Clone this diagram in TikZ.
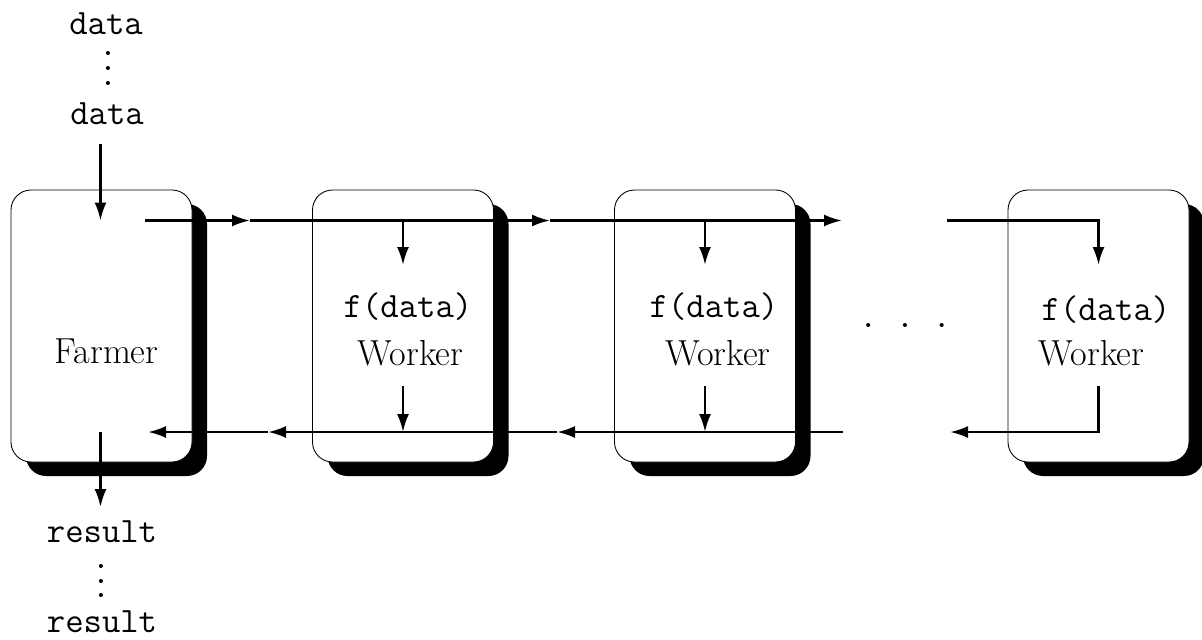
\documentclass[tikz,border=0pt]{standalone}
\usepackage{fontspec}
\usepackage{tikz}
\usetikzlibrary{arrows.meta,shadows}

\newcommand{\tallvdots}{\vbox{\baselineskip=8.5pt\lineskiplimit=0pt\hbox{.}\hbox{.}\hbox{.}}}

\begin{document}
\begin{tikzpicture}[
        box/.style={draw,line width=0.5pt,fill=white,rounded corners=0.4cm,
            minimum width=3.62cm,minimum height=5.44cm,
            drop shadow={shadow xshift=0.3cm,shadow yshift=-0.28cm,fill=black,opacity=1}},
        arr/.style={line width=1.4pt,-{Latex[length=0.36cm,width=0.24cm]}},
        mono/.style={font=\fontsize{20.3}{22}\ttfamily,anchor=base,inner sep=0pt},
        roman/.style={font=\fontsize{20.6}{24}\selectfont,anchor=base,inner sep=0pt}]
        \useasboundingbox (0,0) rectangle (24.04,-12.78);

        % the four boxes
        \node[box] (farmer) at (2.03,-6.52) {};
        \node[box] (worker1) at (8.06,-6.52) {};
        \node[box] (worker2) at (14.1,-6.52) {};
        \node[box] (worker3) at (21.97,-6.52) {};

        % texts
        \node[mono] (data1) at (2.12,-0.68) {data};
        \node[mono,anchor=center] (vdots1) at (2.16,-1.37) {\tallvdots};
        \node[mono] (data2) at (2.14,-2.48) {data};
        \node[mono] (result1) at (2.04,-10.84) {result};
        \node[mono,anchor=center] (vdots2) at (2.02,-11.62) {\tallvdots};
        \node[mono] (result2) at (2.04,-12.64) {result};

        \node[roman] (farmertext) at (2.13,-7.26) {Farmer};
        \node[mono] (f1) at (8.16,-6.34) {f(data)};
        \node[roman] (w1) at (8.21,-7.3) {Worker};
        \node[mono] (f2) at (14.28,-6.34) {f(data)};
        \node[roman] (w2) at (14.36,-7.3) {Worker};
        \node[mono] (f3) at (22.12,-6.4) {f(data)};
        \node[roman] (w3) at (21.83,-7.3) {Worker};
        \node[mono] (gap) at (18.1,-6.54) {.\ .\ .};

        % levels and rail points
        \coordinate (top) at (0,-4.41);
        \coordinate (tipin) at (0,-5.3);
        \coordinate (outstart) at (0,-7.72);
        \coordinate (bot) at (0,-8.64);
        \coordinate (datain) at (2.01,-2.88);
        \coordinate (resout) at (2.01,-10.14);
        \coordinate (t0) at (2.9,-4.41);
        \coordinate (t1) at (5.0,-4.41);
        \coordinate (t2) at (11.0,-4.41);
        \coordinate (t3) at (16.84,-4.41);
        \coordinate (t4) at (18.94,-4.41);
        \coordinate (b0) at (2.96,-8.64);
        \coordinate (b1) at (5.36,-8.64);
        \coordinate (b2) at (11.14,-8.64);
        \coordinate (b3) at (16.86,-8.64);
        \coordinate (b4) at (19.0,-8.64);

        % farmer in and out
        \draw[arr] (datain) -- (datain |- top);
        \draw[arr] (resout |- bot) -- (resout);

        % outgoing rail
        \draw[arr] (t0) -- (t1);
        \draw[arr] (t1) -- (t2);
        \draw[arr] (t2) -- (t3);
        \draw[arr] (t4) -| (worker3 |- tipin);

        % returning rail
        \draw[arr] (worker3 |- outstart) |- (b4);
        \draw[arr] (b3) -- (b2);
        \draw[arr] (b2) -- (b1);
        \draw[arr] (b1) -- (b0);

        % worker taps
        \draw[arr] (worker1 |- top) -- (worker1 |- tipin);
        \draw[arr] (worker1 |- outstart) -- (worker1 |- bot);
        \draw[arr] (worker2 |- top) -- (worker2 |- tipin);
        \draw[arr] (worker2 |- outstart) -- (worker2 |- bot);
\end{tikzpicture}
\end{document}
